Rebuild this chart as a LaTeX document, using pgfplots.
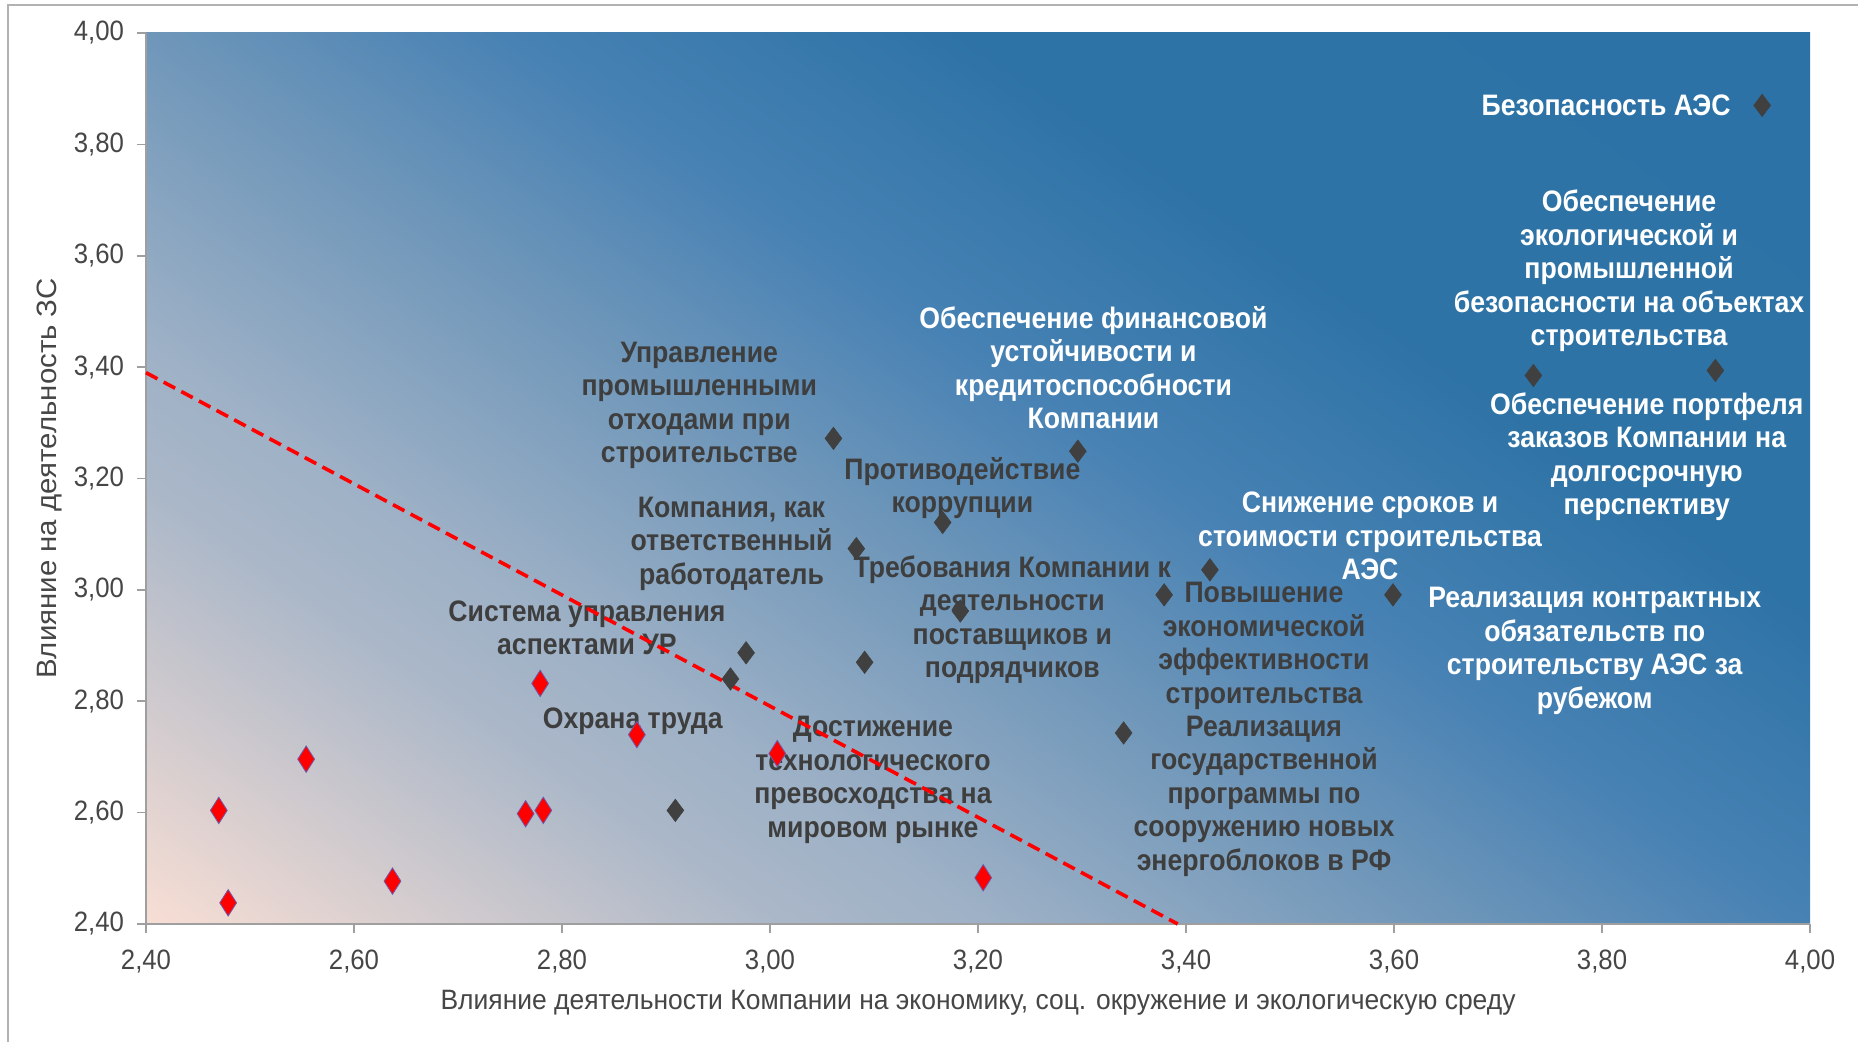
\documentclass[border=0pt]{standalone}
\usepackage{fontspec}
\setmainfont{Liberation Sans}[FakeStretch=0.92]
\newfontfamily\axlblfont{Liberation Sans}[FakeStretch=0.945]
\newfontfamily\ylblfont{Liberation Sans}[FakeStretch=1.05]
\newfontfamily\lblfont{Liberation Sans}[FakeStretch=0.9]
\usepackage{pgfplots}
\pgfplotsset{compat=1.18}

\definecolor{txtgray}{RGB}{70,70,70}
\definecolor{lbldark}{RGB}{62,62,62}
\definecolor{ptdark}{RGB}{64,64,64}
\definecolor{bgA}{RGB}{247,222,212}
\definecolor{bgB}{RGB}{170,183,200}
\definecolor{bgC}{RGB}{158,177,198}
\definecolor{bgD}{RGB}{110,150,185}
\definecolor{bgE}{RGB}{72,130,180}
\definecolor{bgF}{RGB}{46,115,166}
\definecolor{bgG}{RGB}{42,112,165}
% фон: диагональный градиент от персикового к синему (на квадрате 1000pt)
\pgfdeclarehorizontalshading{bgshade}{100bp}{color(0bp)=(bgA); color(29.1bp)=(bgA); color(38.1bp)=(bgB); color(41bp)=(bgC); color(47.6bp)=(bgD); color(52.4bp)=(bgE); color(59bp)=(bgF); color(100bp)=(bgG)}

\tikzset{lbl/.style={font=\lblfont\bfseries\fontsize{14.8}{16.75}\selectfont, align=center, inner sep=0pt}}

\begin{document}
\begin{tikzpicture}
\useasboundingbox (0,0) rectangle (929pt,521pt);
\draw[gray!60, line width=0.7pt] (4pt,0) -- (4pt,518.5pt) -- (929pt,518.5pt);
\begin{scope}
  \clip (73pt,59pt) rectangle (905pt,504.5pt);
  \shade[shading=bgshade, shading angle=55.6] (-11pt,-218.25pt) rectangle (989pt,781.75pt);
\end{scope}
\begin{axis}[
  at={(73pt,59pt)}, anchor=south west,
  scale only axis, width=832pt, height=445.5pt,
  xmin=2.4, xmax=4, ymin=2.4, ymax=4,
  xtick={2.4,2.6,2.8,3.0,3.2,3.4,3.6,3.8,4.0},
  ytick={2.4,2.6,2.8,3.0,3.2,3.4,3.6,3.8,4.0},
  axis lines=left,
  axis line style={-, draw=gray!75, line width=0.8pt},
  tick align=outside, major tick length=4.5pt,
  tick style={draw=gray!75, line width=0.8pt},
  /pgf/number format/assume math mode=true,
  /pgf/number format/.cd, fixed, fixed zerofill, precision=2, use comma,
  /pgfplots/.cd,
  ticklabel style={font=\fontsize{14}{16}\selectfont, text=txtgray},
  xticklabel style={yshift=-4.7pt},
  yticklabel style={xshift=-3pt},
  xlabel={Влияние деятельности Компании на экономику, соц. окружение и экологическую среду},
  ylabel={Влияние на деятельность ЗС},
  xlabel style={font=\axlblfont\fontsize{14}{16}\selectfont, text=txtgray, at={(axis description cs:0.5,0)}, anchor=center, yshift=-39.3pt},
  ylabel style={font=\ylblfont\fontsize{14}{16}\selectfont, text=txtgray, at={(axis description cs:-0.0577,0.5)}, anchor=center},
  clip=false,
]
% подписи
\node[lbl, text=white] at (axis cs:3.804,3.870) {Безопасность АЭС};
\node[lbl, text=white] at (axis cs:3.826,3.573) {Обеспечение\\экологической и\\промышленной\\безопасности на объектах\\строительства};
\node[lbl, text=white] at (axis cs:3.311,3.399) {Обеспечение финансовой\\устойчивости и\\кредитоспособности\\Компании};
\node[lbl, text=lbldark] at (axis cs:2.932,3.331) {Управление\\промышленными\\отходами при\\строительстве};
\node[lbl, text=white] at (axis cs:3.843,3.239) {Обеспечение портфеля\\заказов Компании на\\долгосрочную\\перспективу};
\node[lbl, text=lbldark] at (axis cs:3.185,3.183) {Противодействие\\коррупции};
\node[lbl, text=white] at (axis cs:3.577,3.097) {Снижение сроков и\\стоимости строительства\\АЭС};
\node[lbl, text=lbldark] at (axis cs:2.963,3.083) {Компания, как\\ответственный\\работодатель};
\node[lbl, text=lbldark] at (axis cs:3.233,2.946) {Требования Компании к\\деятельности\\поставщиков и\\подрядчиков};
\node[lbl, text=lbldark] at (axis cs:3.475,2.899) {Повышение\\экономической\\эффективности\\строительства};
\node[lbl, text=white] at (axis cs:3.793,2.890) {Реализация контрактных\\обязательств по\\строительству АЭС за\\рубежом};
\node[lbl, text=lbldark] at (axis cs:2.824,2.932) {Система управления\\аспектами УР};
\node[lbl, text=lbldark] at (axis cs:2.868,2.764) {Охрана труда};
\node[lbl, text=lbldark] at (axis cs:3.099,2.659) {Достижение\\технологического\\превосходства на\\мировом рынке};
\node[lbl, text=lbldark] at (axis cs:3.475,2.630) {Реализация\\государственной\\программы по\\сооружению новых\\энергоблоков в РФ};

% приоритетные темы
\addplot[only marks, mark=diamond*, mark size=5.6pt, mark options={fill=ptdark, draw=ptdark, line width=0.3pt}] coordinates {
  (3.954,3.870) (3.734,3.385) (3.909,3.394) (3.296,3.249)
  (3.061,3.272) (3.166,3.121) (3.083,3.074) (3.423,3.036)
  (3.379,2.991) (3.599,2.991) (3.183,2.962) (2.977,2.887)
  (3.091,2.870) (2.962,2.840) (3.340,2.743) (2.909,2.604)
};
% прочие темы
\addplot[only marks, mark=diamond*, mark size=6.6pt, mark options={fill=red, draw={rgb,255:red,110;green,90;blue,170}, line width=0.4pt, xscale=0.85}] coordinates {
  (2.779,2.832) (2.872,2.740) (3.007,2.706) (2.554,2.696)
  (2.470,2.604) (2.765,2.598) (2.782,2.604) (2.637,2.477)
  (2.479,2.438) (3.205,2.483)
};
% граница
\addplot[red, line width=1.8pt, dash pattern=on 6.5pt off 3.5pt] coordinates {(2.4,3.39) (3.392,2.40)};
\end{axis}
\end{tikzpicture}
\end{document}
